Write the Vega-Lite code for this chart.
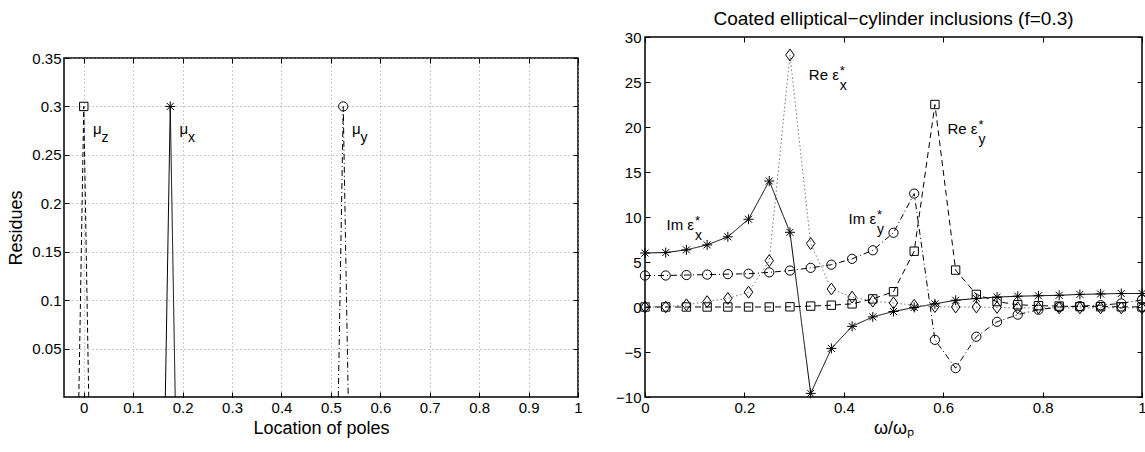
{
  "$schema": "https://vega.github.io/schema/vega-lite/v6.json",
  "padding": {"left": 7, "top": 9, "right": 0, "bottom": 0},
  "spacing": 31,
  "resolve": {"scale": {"shape": "independent", "size": "independent", "strokeDash": "independent", "color": "independent"}},
  "config": {
    "font": "Liberation Sans",
    "view": {"stroke": "black", "strokeWidth": 1.5},
    "axis": {
      "labelFont": "Liberation Sans", "labelFontSize": 15, "labelColor": "black",
      "titleFont": "Liberation Sans", "titleFontSize": 18, "titleFontWeight": "normal", "titleColor": "black",
      "domain": false, "tickColor": "black", "tickSize": -5, "tickWidth": 1, "labelPadding": 8,
      "titlePadding": 4, "grid": false, "labelFlush": false, "labelOverlap": false
    },
    "title": {"font": "Liberation Sans", "fontWeight": "normal", "color": "black"}
  },
  "hconcat": [
    {
      "spacing": 0,
      "vconcat": [
        {
          "width": 514, "height": 13,
          "view": {"stroke": null},
          "data": {"values": []},
          "mark": {"type": "point", "opacity": 0},
          "encoding": {}
        },
        {
          "width": 514, "height": 339,
          "data": {"values": [
            {"p": -0.01, "r": 0, "s": "z"}, {"p": 0, "r": 0.3, "s": "z"}, {"p": 0.01, "r": 0, "s": "z"},
            {"p": 0.165, "r": 0, "s": "x"}, {"p": 0.175, "r": 0.3, "s": "x"}, {"p": 0.185, "r": 0, "s": "x"},
            {"p": 0.515, "r": 0, "s": "y"}, {"p": 0.525, "r": 0.3, "s": "y"}, {"p": 0.535, "r": 0, "s": "y"}
          ]},
          "resolve": {"axis": {"x": "independent", "y": "independent"}},
          "layer": [
            {
              "mark": {"type": "line", "color": "black", "strokeWidth": 1},
              "encoding": {
                "x": {"field": "p", "type": "quantitative", "scale": {"domain": [-0.04, 1], "nice": false, "zero": false},
                      "axis": {"values": [0, 0.1, 0.2, 0.3, 0.4, 0.5, 0.6, 0.7, 0.8, 0.9, 1], "format": "~g", "grid": true,
                               "gridDash": [1, 3], "gridColor": "#999", "title": "Location of poles"}},
                "y": {"field": "r", "type": "quantitative", "scale": {"domain": [0, 0.35], "nice": false},
                      "axis": {"values": [0.05, 0.1, 0.15, 0.2, 0.25, 0.3, 0.35], "format": "~g", "grid": true,
                               "gridDash": [1, 3], "gridColor": "#999", "title": "Residues", "titlePadding": 6}},
                "detail": {"field": "s"},
                "strokeDash": {"field": "s", "scale": {"domain": ["z", "x", "y"], "range": [[5, 3], [1, 0], [6, 3, 1, 3]]}, "legend": null}
              }
            },
            {
              "transform": [{"filter": "datum.r > 0"}],
              "mark": {"type": "point", "filled": false, "color": "black", "strokeWidth": 1, "opacity": 1},
              "encoding": {
                "x": {"field": "p", "type": "quantitative",
                      "axis": {"orient": "top", "values": [0, 0.1, 0.2, 0.3, 0.4, 0.5, 0.6, 0.7, 0.8, 0.9, 1], "labels": false, "title": null}},
                "y": {"field": "r", "type": "quantitative",
                      "axis": {"orient": "right", "values": [0.05, 0.1, 0.15, 0.2, 0.25, 0.3, 0.35], "labels": false, "title": null}},
                "shape": {"field": "s", "scale": {"domain": ["z", "x", "y"],
                          "range": ["square", "M0,-1L0,1M-1,0L1,0M-0.7,-0.7L0.7,0.7M-0.7,0.7L0.7,-0.7", "circle"]}, "legend": null},
                "size": {"field": "s", "scale": {"type": "ordinal", "domain": ["z", "x", "y"], "range": [70, 100, 85]}, "legend": null}
              }
            },
            {
              "data": {"values": [
                {"p": 0.036, "r": 0.2715, "main": "μ", "sub": "z"},
                {"p": 0.211, "r": 0.2715, "main": "μ", "sub": "x"},
                {"p": 0.56, "r": 0.2715, "main": "μ", "sub": "y"}
              ]},
              "layer": [
                {
                  "mark": {"type": "text", "align": "right", "baseline": "alphabetic", "fontSize": 15, "color": "black"},
                  "encoding": {
                    "x": {"field": "p", "type": "quantitative", "axis": null},
                    "y": {"field": "r", "type": "quantitative", "axis": null},
                    "text": {"field": "main"}
                  }
                },
                {
                  "mark": {"type": "text", "align": "left", "baseline": "alphabetic", "fontSize": 14, "dy": 8, "color": "black"},
                  "encoding": {
                    "x": {"field": "p", "type": "quantitative", "axis": null},
                    "y": {"field": "r", "type": "quantitative", "axis": null},
                    "text": {"field": "sub"}
                  }
                }
              ]
            }
          ]
        }
      ]
    },
    {
      "width": 497, "height": 360,
      "title": {"text": "Coated elliptical−cylinder inclusions (f=0.3)", "fontSize": 19, "offset": 1, "anchor": "middle"},
      "data": {"values": [
        {"w": 0, "v": 6.0, "s": "imx"}, {"w": 0.041667, "v": 6.05, "s": "imx"}, {"w": 0.083333, "v": 6.35, "s": "imx"},
        {"w": 0.125, "v": 6.9, "s": "imx"}, {"w": 0.166667, "v": 7.8, "s": "imx"}, {"w": 0.208333, "v": 9.75, "s": "imx"},
        {"w": 0.25, "v": 14.0, "s": "imx"}, {"w": 0.291667, "v": 8.3, "s": "imx"}, {"w": 0.333333, "v": -9.6, "s": "imx"},
        {"w": 0.375, "v": -4.6, "s": "imx"}, {"w": 0.416667, "v": -2.15, "s": "imx"}, {"w": 0.458333, "v": -1.1, "s": "imx"},
        {"w": 0.5, "v": -0.5, "s": "imx"}, {"w": 0.541667, "v": -0.05, "s": "imx"}, {"w": 0.583333, "v": 0.35, "s": "imx"},
        {"w": 0.625, "v": 0.75, "s": "imx"}, {"w": 0.666667, "v": 0.95, "s": "imx"}, {"w": 0.708333, "v": 1.1, "s": "imx"},
        {"w": 0.75, "v": 1.2, "s": "imx"}, {"w": 0.791667, "v": 1.25, "s": "imx"}, {"w": 0.833333, "v": 1.3, "s": "imx"},
        {"w": 0.875, "v": 1.4, "s": "imx"}, {"w": 0.916667, "v": 1.45, "s": "imx"}, {"w": 0.958333, "v": 1.5, "s": "imx"},
        {"w": 1, "v": 1.5, "s": "imx"},

        {"w": 0, "v": 0, "s": "rex"}, {"w": 0.041667, "v": 0, "s": "rex"}, {"w": 0.083333, "v": 0.25, "s": "rex"},
        {"w": 0.125, "v": 0.6, "s": "rex"}, {"w": 0.166667, "v": 0.95, "s": "rex"}, {"w": 0.208333, "v": 1.65, "s": "rex"},
        {"w": 0.25, "v": 5.15, "s": "rex"}, {"w": 0.291667, "v": 28.0, "s": "rex"}, {"w": 0.333333, "v": 7.05, "s": "rex"},
        {"w": 0.375, "v": 2.0, "s": "rex"}, {"w": 0.416667, "v": 1.1, "s": "rex"}, {"w": 0.458333, "v": 0.65, "s": "rex"},
        {"w": 0.5, "v": 0.45, "s": "rex"}, {"w": 0.541667, "v": 0.2, "s": "rex"}, {"w": 0.583333, "v": 0.05, "s": "rex"},
        {"w": 0.625, "v": 0, "s": "rex"}, {"w": 0.666667, "v": 0, "s": "rex"}, {"w": 0.708333, "v": -0.05, "s": "rex"},
        {"w": 0.75, "v": -0.1, "s": "rex"}, {"w": 0.791667, "v": -0.1, "s": "rex"}, {"w": 0.833333, "v": -0.1, "s": "rex"},
        {"w": 0.875, "v": -0.1, "s": "rex"}, {"w": 0.916667, "v": -0.1, "s": "rex"}, {"w": 0.958333, "v": -0.1, "s": "rex"},
        {"w": 1, "v": -0.1, "s": "rex"},

        {"w": 0, "v": 0, "s": "rey"}, {"w": 0.041667, "v": 0, "s": "rey"}, {"w": 0.083333, "v": 0, "s": "rey"},
        {"w": 0.125, "v": 0, "s": "rey"}, {"w": 0.166667, "v": 0, "s": "rey"}, {"w": 0.208333, "v": 0, "s": "rey"},
        {"w": 0.25, "v": 0, "s": "rey"}, {"w": 0.291667, "v": 0.02, "s": "rey"}, {"w": 0.333333, "v": 0.1, "s": "rey"},
        {"w": 0.375, "v": 0.2, "s": "rey"}, {"w": 0.416667, "v": 0.35, "s": "rey"}, {"w": 0.458333, "v": 0.9, "s": "rey"},
        {"w": 0.5, "v": 1.7, "s": "rey"}, {"w": 0.541667, "v": 6.2, "s": "rey"}, {"w": 0.583333, "v": 22.5, "s": "rey"},
        {"w": 0.625, "v": 4.1, "s": "rey"}, {"w": 0.666667, "v": 1.4, "s": "rey"}, {"w": 0.708333, "v": 0.6, "s": "rey"},
        {"w": 0.75, "v": 0.25, "s": "rey"}, {"w": 0.791667, "v": 0.15, "s": "rey"}, {"w": 0.833333, "v": 0.1, "s": "rey"},
        {"w": 0.875, "v": 0.05, "s": "rey"}, {"w": 0.916667, "v": 0.03, "s": "rey"}, {"w": 0.958333, "v": 0.02, "s": "rey"},
        {"w": 1, "v": 0.01, "s": "rey"},

        {"w": 0, "v": 3.5, "s": "imy"}, {"w": 0.041667, "v": 3.5, "s": "imy"}, {"w": 0.083333, "v": 3.55, "s": "imy"},
        {"w": 0.125, "v": 3.6, "s": "imy"}, {"w": 0.166667, "v": 3.65, "s": "imy"}, {"w": 0.208333, "v": 3.7, "s": "imy"},
        {"w": 0.25, "v": 3.85, "s": "imy"}, {"w": 0.291667, "v": 4.05, "s": "imy"}, {"w": 0.333333, "v": 4.35, "s": "imy"},
        {"w": 0.375, "v": 4.7, "s": "imy"}, {"w": 0.416667, "v": 5.35, "s": "imy"}, {"w": 0.458333, "v": 6.3, "s": "imy"},
        {"w": 0.5, "v": 8.25, "s": "imy"}, {"w": 0.541667, "v": 12.6, "s": "imy"}, {"w": 0.583333, "v": -3.65, "s": "imy"},
        {"w": 0.625, "v": -6.8, "s": "imy"}, {"w": 0.666667, "v": -3.3, "s": "imy"}, {"w": 0.708333, "v": -1.65, "s": "imy"},
        {"w": 0.75, "v": -0.85, "s": "imy"}, {"w": 0.791667, "v": -0.3, "s": "imy"}, {"w": 0.833333, "v": 0.0, "s": "imy"},
        {"w": 0.875, "v": 0.1, "s": "imy"}, {"w": 0.916667, "v": 0.2, "s": "imy"}, {"w": 0.958333, "v": 0.4, "s": "imy"},
        {"w": 1, "v": 0.8, "s": "imy"}
      ]},
      "resolve": {"axis": {"x": "independent", "y": "independent"}},
      "layer": [
        {
          "mark": {"type": "line", "strokeWidth": 1},
          "encoding": {
            "x": {"field": "w", "type": "quantitative", "scale": {"domain": [0, 1], "nice": false},
                  "axis": {"values": [0, 0.2, 0.4, 0.6, 0.8, 1], "format": "~g", "title": "ω/ωₚ"}},
            "y": {"field": "v", "type": "quantitative", "scale": {"domain": [-10, 30], "nice": false},
                  "axis": {"values": [-10, -5, 0, 5, 10, 15, 20, 25, 30], "format": "~g", "title": null, "labelPadding": 9}},
            "detail": {"field": "s"},
            "color": {"field": "s", "scale": {"domain": ["imx", "rex", "rey", "imy"], "range": ["black", "#777777", "black", "black"]}, "legend": null},
            "strokeDash": {"field": "s", "scale": {"domain": ["imx", "rex", "rey", "imy"], "range": [[1, 0], [1.5, 2.5], [6, 4], [6, 3, 1, 3]]}, "legend": null}
          }
        },
        {
          "mark": {"type": "point", "filled": false, "color": "black", "strokeWidth": 1, "opacity": 1},
          "encoding": {
            "x": {"field": "w", "type": "quantitative",
                  "axis": {"orient": "top", "values": [0, 0.2, 0.4, 0.6, 0.8, 1], "labels": false, "title": null}},
            "y": {"field": "v", "type": "quantitative",
                  "axis": {"orient": "right", "values": [-10, -5, 0, 5, 10, 15, 20, 25, 30], "labels": false, "title": null}},
            "shape": {"field": "s", "scale": {"domain": ["imx", "rex", "rey", "imy"],
                      "range": ["M0,-1L0,1M-1,0L1,0M-0.7,-0.7L0.7,0.7M-0.7,0.7L0.7,-0.7", "M0,-1L0.72,0L0,1L-0.72,0Z", "square", "circle"]}, "legend": null},
            "size": {"field": "s", "scale": {"type": "ordinal", "domain": ["imx", "rex", "rey", "imy"], "range": [100, 140, 70, 85]}, "legend": null}
          }
        },
        {
          "data": {"values": [
            {"w": 0.39, "v": 25.2, "main": "Re ε", "sup": "*", "sub": "x"},
            {"w": 0.669, "v": 19.2, "main": "Re ε", "sup": "*", "sub": "y"},
            {"w": 0.0986, "v": 8.6, "main": "Im ε", "sup": "*", "sub": "x"},
            {"w": 0.465, "v": 9.2, "main": "Im ε", "sup": "*", "sub": "y"}
          ]},
          "layer": [
            {
              "mark": {"type": "text", "align": "right", "baseline": "alphabetic", "fontSize": 15, "color": "black"},
              "encoding": {
                "x": {"field": "w", "type": "quantitative", "axis": null},
                "y": {"field": "v", "type": "quantitative", "axis": null},
                "text": {"field": "main"}
              }
            },
            {
              "mark": {"type": "text", "align": "left", "baseline": "alphabetic", "fontSize": 13, "dx": 1, "dy": -5, "color": "black"},
              "encoding": {
                "x": {"field": "w", "type": "quantitative", "axis": null},
                "y": {"field": "v", "type": "quantitative", "axis": null},
                "text": {"field": "sup"}
              }
            },
            {
              "mark": {"type": "text", "align": "left", "baseline": "alphabetic", "fontSize": 14, "dx": 1, "dy": 10, "color": "black"},
              "encoding": {
                "x": {"field": "w", "type": "quantitative", "axis": null},
                "y": {"field": "v", "type": "quantitative", "axis": null},
                "text": {"field": "sub"}
              }
            }
          ]
        }
      ]
    }
  ]
}
